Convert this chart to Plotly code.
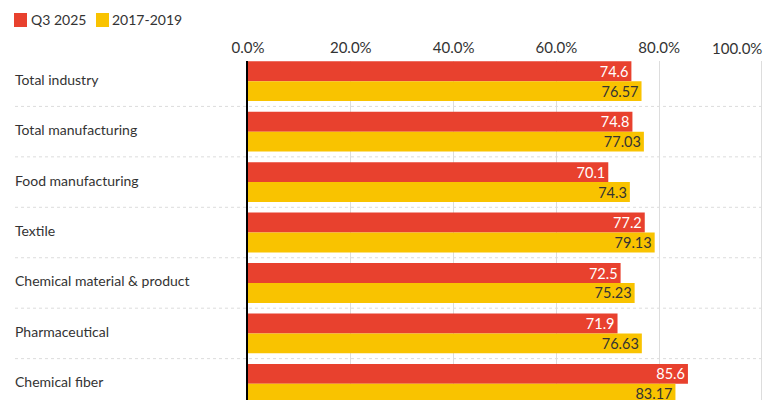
import plotly.graph_objects as go

categories = [
    "Total industry",
    "Total manufacturing",
    "Food manufacturing",
    "Textile",
    "Chemical material & product",
    "Pharmaceutical",
    "Chemical fiber",
]
q3_2025 = [74.6, 74.8, 70.1, 77.2, 72.5, 71.9, 85.6]
avg_2017_2019 = [76.57, 77.03, 74.3, 79.13, 75.23, 76.63, 83.17]
series_names = ["Q3 2025", "2017-2019"]
tick_vals = [0, 20, 40, 60, 80, 100]
tick_text = ["0.0%", "20.0%", "40.0%", "60.0%", "80.0%", "100.0%"]

FONT = "Lato"
RED = "#E8412E"
YELLOW = "#F9C300"
TEXT = "#333333"

# the page body adds an 8px margin, so the figure is drawn 8px smaller
W, H = 772, 392
L, R, T = 240, 16, 53
PW, PH = W - L - R, H - T


def px(x):
    return (x - 8 - L) / PW


def py(y):
    return (H - (y - 8)) / PH


fig = go.Figure()
fig.add_trace(go.Bar(
    y=categories, x=q3_2025, orientation="h", name=series_names[0],
    marker=dict(color=RED, line=dict(width=0)),
    text=[str(v) for v in q3_2025], textposition="inside",
    insidetextanchor="end", textangle=0, constraintext="none",
    insidetextfont=dict(color="white", size=14.5, family=FONT),
))
fig.add_trace(go.Bar(
    y=categories, x=avg_2017_2019, orientation="h", name=series_names[1],
    marker=dict(color=YELLOW, line=dict(width=0)),
    text=[str(v) for v in avg_2017_2019], textposition="inside",
    insidetextanchor="end", textangle=0, constraintext="none",
    insidetextfont=dict(color=TEXT, size=14.5, family=FONT),
))

# category labels, left aligned
for c in categories:
    fig.add_annotation(
        x=px(15), xref="paper", y=c, yref="y", text=c, showarrow=False,
        xanchor="left", xshift=-2, yshift=2,
        font=dict(size=14, color=TEXT, family=FONT),
    )

# dotted separators between groups
for i in range(len(categories) - 1):
    fig.add_shape(
        type="line", xref="paper", yref="y", x0=px(15), x1=px(762),
        y0=i + 0.5, y1=i + 0.5, layer="below",
        line=dict(color="#dcdcdc", width=1, dash="dot"),
    )

# legend drawn by hand: square swatch + label
for name, col, sx, tx in [(series_names[0], RED, 14, 31),
                          (series_names[1], YELLOW, 96, 112)]:
    fig.add_shape(
        type="rect", xref="paper", yref="paper",
        x0=px(sx), x1=px(sx + 13), y0=py(27), y1=py(13),
        fillcolor=col, line=dict(width=0),
    )
    fig.add_annotation(
        x=px(tx), xref="paper", y=py(20), yref="paper", text=name,
        showarrow=False, xanchor="left", yanchor="middle", xshift=-2,
        font=dict(size=14, color=TEXT, family=FONT),
    )

# last tick label kept inside the frame
fig.add_annotation(
    x=100, xref="x", y=py(48), yref="paper", text=tick_text[-1],
    showarrow=False, xanchor="right", yanchor="middle", xshift=2,
    font=dict(size=15, color=TEXT, family=FONT),
)

fig.update_layout(
    width=W, height=H,
    margin=dict(l=L, r=R, t=T, b=0, pad=0),
    paper_bgcolor="white", plot_bgcolor="white",
    barmode="group", bargap=0.21, bargroupgap=0,
    font=dict(family=FONT, color=TEXT),
    showlegend=False,
    xaxis=dict(
        side="top", range=[0, 100.4], tickvals=tick_vals,
        ticktext=tick_text[:-1] + [""], ticklabelstandoff=4,
        showgrid=True, gridcolor="#dddddd", gridwidth=1,
        zeroline=False, showline=False, ticks="",
        tickfont=dict(size=15, color=TEXT, family=FONT),
    ),
    yaxis=dict(
        range=[6.32, -0.4], showticklabels=False, showgrid=False,
        zeroline=False, showline=True, linecolor="black", linewidth=2,
        ticks="",
    ),
)

fig.write_html("out.html")
